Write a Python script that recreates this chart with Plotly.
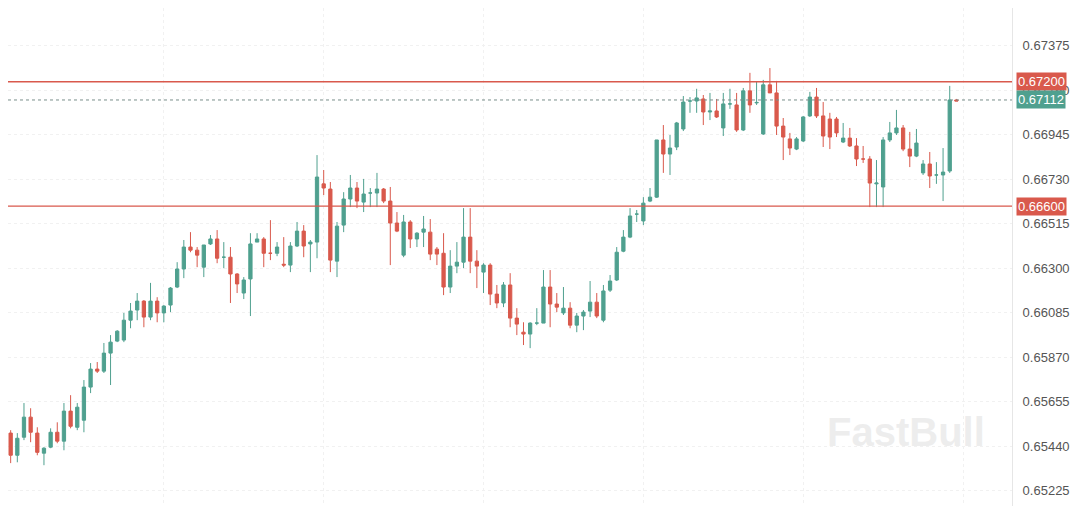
import plotly.graph_objects as go

opens = [0.65359, 0.65504, 0.65397, 0.65484, 0.65581, 0.65504, 0.65407, 0.65436, 0.65508, 0.65465,
         0.65610, 0.65532, 0.65566, 0.65726, 0.65813, 0.65803, 0.65890, 0.65948, 0.65953, 0.66049,
         0.66098, 0.66141, 0.66064, 0.66141, 0.66084, 0.66122, 0.66209, 0.66296, 0.66402, 0.66387,
         0.66305, 0.66417, 0.66441, 0.66353, 0.66353, 0.66272, 0.66180, 0.66248, 0.66426, 0.66441,
         0.66372, 0.66372, 0.66319, 0.66315, 0.66407, 0.66479, 0.66417, 0.66426, 0.66707, 0.66682,
         0.66334, 0.66508, 0.66634, 0.66687, 0.66619, 0.66663, 0.66663, 0.66682, 0.66624, 0.66518,
         0.66363, 0.66523, 0.66441, 0.66474, 0.66474, 0.66392, 0.66372, 0.66209, 0.66310, 0.66329,
         0.66450, 0.66334, 0.66281, 0.66315, 0.66175, 0.66132, 0.66219, 0.66059, 0.65991, 0.65982,
         0.66035, 0.66035, 0.66209, 0.66127, 0.66084, 0.66107, 0.66025, 0.66069, 0.66093, 0.66136,
         0.66049, 0.66194, 0.66243, 0.66382, 0.66450, 0.66561, 0.66528, 0.66624, 0.66643, 0.66919,
         0.66851, 0.66885, 0.66972, 0.67107, 0.67107, 0.67117, 0.67054, 0.67059, 0.66977, 0.67093,
         0.67088, 0.66967, 0.67156, 0.67098, 0.66948, 0.67185, 0.67146, 0.66986, 0.66924, 0.66875,
         0.66914, 0.67035, 0.67126, 0.67035, 0.67020, 0.67020, 0.66909, 0.66928, 0.66890, 0.66827,
         0.66827, 0.66707, 0.66692, 0.66919, 0.66953, 0.66977, 0.66875, 0.66841, 0.66760, 0.66803,
         0.66750, 0.66750, 0.66769, 0.67112]
closes = [0.65504, 0.65397, 0.65479, 0.65581, 0.65508, 0.65411, 0.65431, 0.65508, 0.65465, 0.65610,
          0.65537, 0.65629, 0.65726, 0.65813, 0.65803, 0.65890, 0.65943, 0.65996, 0.66049, 0.66093,
          0.66141, 0.66064, 0.66141, 0.66084, 0.66117, 0.66204, 0.66296, 0.66402, 0.66387, 0.66363,
          0.66412, 0.66441, 0.66348, 0.66353, 0.66272, 0.66224, 0.66243, 0.66417, 0.66441, 0.66372,
          0.66372, 0.66402, 0.66315, 0.66407, 0.66479, 0.66407, 0.66426, 0.66740, 0.66687, 0.66339,
          0.66503, 0.66634, 0.66687, 0.66624, 0.66658, 0.66663, 0.66682, 0.66624, 0.66518, 0.66479,
          0.66523, 0.66441, 0.66469, 0.66489, 0.66368, 0.66368, 0.66209, 0.66310, 0.66329, 0.66450,
          0.66334, 0.66310, 0.66315, 0.66175, 0.66132, 0.66219, 0.66059, 0.66030, 0.65982, 0.66035,
          0.66035, 0.66209, 0.66127, 0.66112, 0.66107, 0.66025, 0.66069, 0.66088, 0.66136, 0.66069,
          0.66190, 0.66238, 0.66377, 0.66450, 0.66552, 0.66561, 0.66614, 0.66643, 0.66919, 0.66851,
          0.66880, 0.67001, 0.67102, 0.67107, 0.67122, 0.67054, 0.67059, 0.67030, 0.67093, 0.67093,
          0.66967, 0.67156, 0.67088, 0.67100, 0.67185, 0.67146, 0.66986, 0.66933, 0.66880, 0.66924,
          0.67030, 0.67126, 0.67035, 0.66938, 0.66933, 0.66953, 0.66928, 0.66890, 0.66827, 0.66827,
          0.66711, 0.66711, 0.66919, 0.66953, 0.66977, 0.66875, 0.66841, 0.66904, 0.66803, 0.66745,
          0.66750, 0.66764, 0.67112, 0.67107]
highs = [0.65542, 0.65518, 0.65504, 0.65649, 0.65624, 0.65532, 0.65436, 0.65527, 0.65556, 0.65649,
         0.65687, 0.65649, 0.65760, 0.65842, 0.65847, 0.65939, 0.65977, 0.66001, 0.66084, 0.66132,
         0.66180, 0.66146, 0.66229, 0.66160, 0.66122, 0.66209, 0.66329, 0.66436, 0.66474, 0.66402,
         0.66412, 0.66460, 0.66484, 0.66426, 0.66402, 0.66276, 0.66257, 0.66469, 0.66469, 0.66450,
         0.66532, 0.66426, 0.66450, 0.66426, 0.66523, 0.66508, 0.66436, 0.66846, 0.66774, 0.66716,
         0.66523, 0.66667, 0.66750, 0.66716, 0.66731, 0.66687, 0.66760, 0.66687, 0.66692, 0.66571,
         0.66557, 0.66532, 0.66474, 0.66552, 0.66537, 0.66402, 0.66469, 0.66387, 0.66426, 0.66590,
         0.66590, 0.66387, 0.66324, 0.66324, 0.66219, 0.66233, 0.66276, 0.66107, 0.66039, 0.66039,
         0.66107, 0.66291, 0.66291, 0.66180, 0.66209, 0.66136, 0.66084, 0.66098, 0.66238, 0.66180,
         0.66219, 0.66267, 0.66402, 0.66484, 0.66590, 0.66581, 0.66643, 0.66687, 0.66919, 0.66991,
         0.66943, 0.67006, 0.67131, 0.67126, 0.67166, 0.67136, 0.67146, 0.67117, 0.67146, 0.67166,
         0.67146, 0.67170, 0.67243, 0.67199, 0.67209, 0.67266, 0.67204, 0.67025, 0.66953, 0.66933,
         0.67035, 0.67151, 0.67170, 0.67102, 0.67050, 0.67030, 0.67001, 0.66977, 0.66928, 0.66890,
         0.66841, 0.66822, 0.66933, 0.67006, 0.67064, 0.66991, 0.66958, 0.66972, 0.66822, 0.66861,
         0.66812, 0.66880, 0.67180, 0.67117]
lows = [0.65334, 0.65359, 0.65363, 0.65470, 0.65460, 0.65397, 0.65349, 0.65431, 0.65455, 0.65421,
        0.65527, 0.65518, 0.65508, 0.65697, 0.65794, 0.65794, 0.65736, 0.65943, 0.65943, 0.66010,
        0.66049, 0.66015, 0.66049, 0.66039, 0.66039, 0.66088, 0.66204, 0.66252, 0.66377, 0.66305,
        0.66257, 0.66412, 0.66324, 0.66300, 0.66132, 0.66180, 0.66151, 0.66069, 0.66426, 0.66305,
        0.66339, 0.66358, 0.66305, 0.66281, 0.66402, 0.66353, 0.66281, 0.66348, 0.66653, 0.66281,
        0.66257, 0.66474, 0.66595, 0.66590, 0.66571, 0.66595, 0.66595, 0.66614, 0.66315, 0.66474,
        0.66353, 0.66397, 0.66402, 0.66402, 0.66339, 0.66315, 0.66170, 0.66180, 0.66276, 0.66300,
        0.66276, 0.66204, 0.66180, 0.66122, 0.66107, 0.66112, 0.66015, 0.65977, 0.65929, 0.65914,
        0.66025, 0.66035, 0.66015, 0.66088, 0.66074, 0.66010, 0.65991, 0.66001, 0.66064, 0.66059,
        0.66039, 0.66185, 0.66238, 0.66377, 0.66445, 0.66523, 0.66508, 0.66619, 0.66639, 0.66760,
        0.66750, 0.66870, 0.66962, 0.67050, 0.67050, 0.66991, 0.67015, 0.67025, 0.66938, 0.67069,
        0.66958, 0.66962, 0.67050, 0.67088, 0.66943, 0.67146, 0.66943, 0.66822, 0.66846, 0.66870,
        0.66909, 0.67030, 0.67025, 0.66885, 0.66875, 0.66933, 0.66904, 0.66885, 0.66793, 0.66808,
        0.66595, 0.66595, 0.66595, 0.66909, 0.66943, 0.66865, 0.66788, 0.66836, 0.66750, 0.66687,
        0.66707, 0.66624, 0.66760, 0.67107]

tick_vals = [0.65225, 0.65440, 0.65655, 0.65870, 0.66085, 0.66300, 0.66515, 0.66730, 0.66945, 0.67160, 0.67375]
top_tick = 0.67590
resistance = 0.67200
support = 0.66600
last_price = 0.67112

UP = "#4fa08f"
DOWN = "#d9594c"
FONT = "Liberation Sans"

fig = go.Figure(go.Candlestick(
    x=list(range(len(opens))),
    open=opens, high=highs, low=lows, close=closes,
    increasing=dict(line=dict(color=UP, width=1), fillcolor=UP),
    decreasing=dict(line=dict(color=DOWN, width=1), fillcolor=DOWN),
    whiskerwidth=0, showlegend=False,
))

for lvl in (resistance, support):
    fig.add_shape(type="line", xref="paper", x0=0, x1=1.0, y0=lvl, y1=lvl,
                  line=dict(color="#d9594c", width=1.3))
fig.add_shape(type="line", xref="paper", x0=0, x1=1.0, y0=last_price, y1=last_price,
              line=dict(color="#7a8f8a", width=1, dash="dot"))

for lvl, col in ((resistance, DOWN), (support, DOWN), (last_price, UP)):
    fig.add_annotation(x=1.004, xref="paper", y=lvl, yref="y", xanchor="left",
                       text=f"{lvl:.5f}", showarrow=False, bgcolor=col,
                       font=dict(color="white", size=13, family=FONT),
                       borderpad=1)

# top tick sits just above the visible range, like in the source
fig.add_annotation(x=1.0, xref="paper", y=top_tick, yref="y", xanchor="left",
                   xshift=7, yanchor="middle", text=f"{top_tick:.5f}", showarrow=False,
                   font=dict(color="#555", size=13, family=FONT))

fig.add_annotation(x=0.975, xref="paper", y=0.1, yref="paper", text="<b>FastBull</b>",
                   showarrow=False, xanchor="right",
                   font=dict(size=40, color="rgba(225,225,225,0.6)", family=FONT))

fig.update_layout(
    width=1072, height=498,
    margin=dict(l=0, r=68, t=0, b=0),
    plot_bgcolor="white", paper_bgcolor="white",
    xaxis=dict(range=[0.6, 151.35], rangeslider=dict(visible=False), showticklabels=False,
               showgrid=True, gridcolor="#f1f1f1", griddash="dot", dtick=24, zeroline=False),
    yaxis=dict(side="right", range=[0.65152, 0.67556], tickvals=tick_vals,
               ticktext=[f"{v:.5f}" for v in tick_vals], showgrid=True, gridcolor="#f1f1f1",
               griddash="dot", tickfont=dict(size=13, color="#555", family=FONT),
               ticks="", ticklabelstandoff=7, showline=True, linecolor="#e6e6e6"),
)

fig.write_html("out.html")
